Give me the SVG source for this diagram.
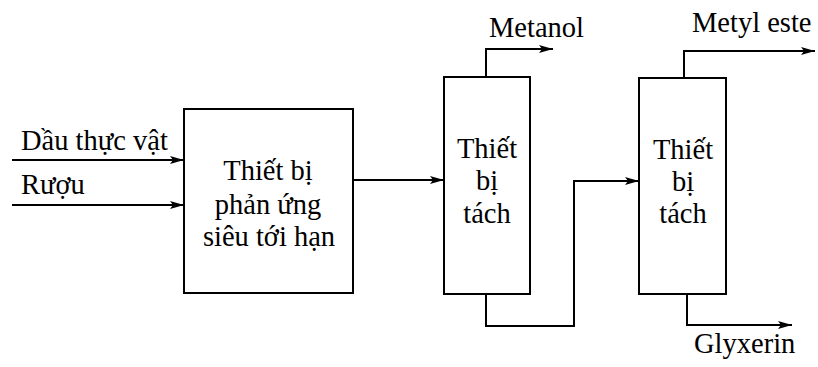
<svg xmlns="http://www.w3.org/2000/svg" width="818" height="367" viewBox="0 0 818 367">
<style>
  .box{fill:#fff;stroke:#000;stroke-width:2}
  .ln{fill:none;stroke:#000;stroke-width:2}
  text{font-family:"Liberation Serif","Times New Roman",serif;font-size:28.5px;fill:#000}
  .c{text-anchor:middle}
</style>
<defs>
  <marker id="ah" viewBox="0 0 14 8" refX="14" refY="4" markerWidth="14" markerHeight="8" markerUnits="userSpaceOnUse" orient="auto">
    <path d="M0,0 L14,4 L0,8 L3,4 Z" fill="#000"/>
  </marker>
</defs>
<rect width="818" height="367" fill="#fff"/>
<g id="connectors">
  <path class="ln" d="M12,160 H184" marker-end="url(#ah)"/>
  <path class="ln" d="M12,205 H184" marker-end="url(#ah)"/>
  <path class="ln" d="M353,180 H444" marker-end="url(#ah)"/>
  <path class="ln" d="M486,77 V49 H553" marker-end="url(#ah)"/>
  <path class="ln" d="M486,294 V326 H574 V181 H639" marker-end="url(#ah)"/>
  <path class="ln" d="M684,78 V51 H815" marker-end="url(#ah)"/>
  <path class="ln" d="M687,294 V325 H792" marker-end="url(#ah)"/>
</g>
<g id="labels">
  <text x="21" y="150">Dầu thực vật</text>
  <text x="21" y="194">Rượu</text>
  <text x="489" y="37">Metanol</text>
  <text x="692" y="32">Metyl este</text>
  <text x="694" y="353">Glyxerin</text>
</g>
<g id="reactor">
  <rect class="box" x="184" y="109" width="169" height="184"/>
  <text class="c" x="268" y="180">Thiết bị</text>
  <text class="c" x="268" y="214">phản ứng</text>
  <text class="c" x="269" y="246">siêu tới hạn</text>
</g>
<g id="separator1">
  <rect class="box" x="444" y="77" width="86" height="217"/>
  <text class="c" x="487" y="158">Thiết</text>
  <text class="c" x="487" y="190">bị</text>
  <text class="c" x="487" y="223">tách</text>
</g>
<g id="separator2">
  <rect class="box" x="639" y="78" width="87" height="216"/>
  <text class="c" x="683" y="159">Thiết</text>
  <text class="c" x="683" y="191">bị</text>
  <text class="c" x="683" y="223">tách</text>
</g>
</svg>
